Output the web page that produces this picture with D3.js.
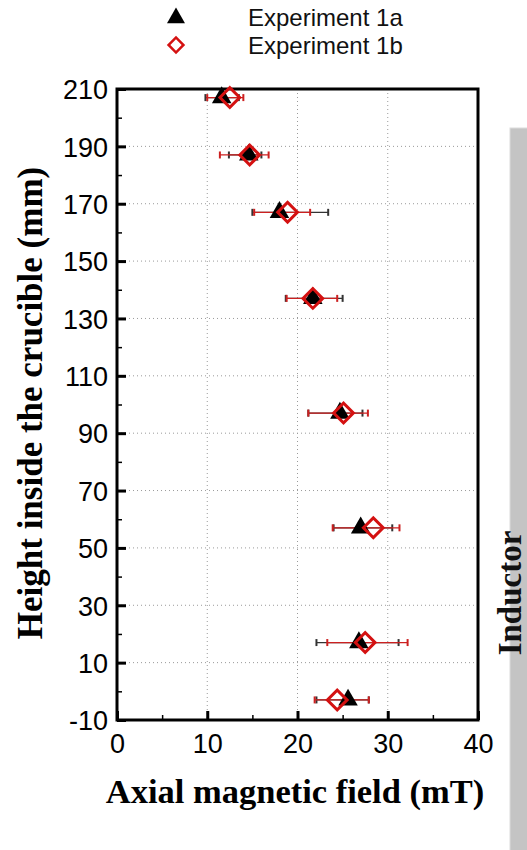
<!DOCTYPE html>
<html><head><meta charset="utf-8">
<script src="https://cdn.jsdelivr.net/npm/d3@7"></script>
<style>body{margin:0;background:#fff}svg{display:block}</style>
</head><body>
<script>
const heights = [207, 187, 167, 137, 97, 57, 17, -3];
const exp1a   = [11.6, 14.6, 18.0, 21.7, 24.7, 27.0, 26.8, 25.6];
const exp1aLo = [9.8, 12.4, 15.0, 18.7, 21.2, 24.0, 22.1, 22.1];
const exp1aHi = [13.5, 16.0, 23.4, 25.0, 27.2, 30.5, 31.2, 27.9];
const exp1b   = [12.5, 14.7, 18.9, 21.7, 25.1, 28.4, 27.5, 24.4];
const exp1bLo = [10.0, 11.4, 15.2, 18.8, 21.2, 23.9, 23.3, 21.9];
const exp1bHi = [14.0, 16.8, 21.4, 24.4, 27.8, 31.3, 32.2, 27.9];
const xMajor = [0, 10, 20, 30, 40];
const xMinor = [5, 15, 25, 35];
const yMajor = [-10, 10, 30, 50, 70, 90, 110, 130, 150, 170, 190, 210];
const yMinor = [0, 20, 40, 60, 80, 100, 120, 140, 160, 180, 200];
const seriesNames = ["Experiment 1a", "Experiment 1b"];

const W = 527, H = 850;
const svg = d3.select("body").append("svg").attr("width", W).attr("height", H);
const L = 117, R = 478, T = 89, B = 720;
const x = d3.scaleLinear().domain([0, 40]).range([L, R]);
const y = d3.scaleLinear().domain([-10, 210]).range([B, T]);
const fmt = v => String(v);

// Inductor
svg.append("rect").attr("x", 510).attr("y", 128).attr("width", 30).attr("height", 740)
  .attr("fill", "#c4c4c4").attr("stroke", "#dcdcdc");
svg.append("text").attr("transform", "translate(521,593) rotate(-90)")
  .attr("text-anchor", "middle").attr("font-family", "Liberation Serif").attr("font-weight", "bold")
  .attr("font-size", 33).attr("fill", "#111").text("Inductor");

// grid
const grid = svg.append("g").attr("stroke", "#9a9a9a").attr("stroke-width", 1).attr("stroke-dasharray", "1,3");
xMajor.filter(v => v > 0 && v < 40).forEach(v => grid.append("line")
  .attr("x1", x(v)).attr("x2", x(v)).attr("y1", T).attr("y2", B));
yMajor.filter(v => v > -10 && v < 210).forEach(v => grid.append("line")
  .attr("x1", L).attr("x2", R).attr("y1", y(v)).attr("y2", y(v)));

// axes
const fontTick = "Liberation Sans";
const gx = svg.append("g").attr("transform", `translate(0,${B})`)
  .call(d3.axisBottom(x).tickValues(xMajor).tickSize(-9).tickPadding(11).tickFormat(fmt));
const gxm = svg.append("g").attr("transform", `translate(0,${B})`)
  .call(d3.axisBottom(x).tickValues(xMinor).tickSize(-5).tickFormat(""));
const gy = svg.append("g").attr("transform", `translate(${L},0)`)
  .call(d3.axisLeft(y).tickValues(yMajor).tickSize(-9).tickPadding(9).tickFormat(fmt));
const gym = svg.append("g").attr("transform", `translate(${L},0)`)
  .call(d3.axisLeft(y).tickValues(yMinor).tickSize(-5).tickFormat(""));
[gx, gxm, gy, gym].forEach(g => {
  g.select(".domain").remove();
  g.selectAll("line").attr("stroke", "#000");
  g.selectAll("text").attr("font-family", fontTick).attr("font-size", 27).attr("fill", "#000");
});
gx.selectAll("line").attr("stroke-width", 3);
gy.selectAll("line").attr("stroke-width", 3);
gxm.selectAll("line").attr("stroke-width", 1.5);
gym.selectAll("line").attr("stroke-width", 1.5);
gy.selectAll("text").attr("dy", "0.36em");
gx.selectAll("text").attr("dy", "0.8em");

// frame
svg.append("rect").attr("x", L).attr("y", T).attr("width", R - L).attr("height", B - T)
  .attr("fill", "none").attr("stroke", "#000").attr("stroke-width", 3);

// error bars
function errBars(vals, lo, hi, color) {
  const g = svg.append("g").attr("stroke", color).attr("stroke-width", 1.3).attr("fill", "none");
  heights.forEach((h, i) => {
    const yy = y(h);
    g.append("line").attr("x1", x(lo[i])).attr("x2", x(hi[i])).attr("y1", yy).attr("y2", yy);
    [lo[i], hi[i]].forEach(v => g.append("line").attr("x1", x(v)).attr("x2", x(v))
      .attr("y1", yy - 3.5).attr("y2", yy + 3.5).attr("stroke-width", 2));
  });
}
errBars(exp1a, exp1aLo, exp1aHi, "#333");
errBars(exp1b, exp1bLo, exp1bHi, "#cc2020");

const tri = d3.symbol().type(d3.symbolTriangle).size(165);
const dia = d3.symbol().type(d3.symbolSquare).size(195);
svg.append("g").selectAll("path").data(heights).join("path")
  .attr("d", tri).attr("fill", "#000")
  .attr("transform", (d, i) => `translate(${x(exp1a[i])},${y(d)})`);
svg.append("g").selectAll("path").data(heights).join("path")
  .attr("d", dia).attr("fill", "none").attr("stroke", "#d41111").attr("stroke-width", 3)
  .attr("transform", (d, i) => `translate(${x(exp1b[i])},${y(d)}) rotate(45)`);

// legend
svg.append("path").attr("d", d3.symbol().type(d3.symbolTriangle).size(140)).attr("fill", "#000")
  .attr("transform", "translate(176,18)");
svg.append("path").attr("d", d3.symbol().type(d3.symbolSquare).size(110)).attr("fill", "none")
  .attr("stroke", "#d41111").attr("stroke-width", 2.5).attr("transform", "translate(176,45) rotate(45)");
seriesNames.forEach((s, i) => svg.append("text").attr("x", 248).attr("y", 17 + i * 28).attr("dy", "0.36em")
  .attr("font-family", fontTick).attr("font-size", 24).attr("fill", "#111").text(s));

// titles
svg.append("text").attr("x", 295).attr("y", 803).attr("text-anchor", "middle")
  .attr("font-family", "Liberation Serif").attr("font-weight", "bold").attr("font-size", 34.5)
  .attr("fill", "#000").text("Axial magnetic field (mT)");
svg.append("text").attr("transform", "translate(42,403) rotate(-90)").attr("text-anchor", "middle")
  .attr("font-family", "Liberation Serif").attr("font-weight", "bold").attr("font-size", 35)
  .attr("fill", "#000").text("Height inside the crucible (mm)");
</script>
</body></html>
